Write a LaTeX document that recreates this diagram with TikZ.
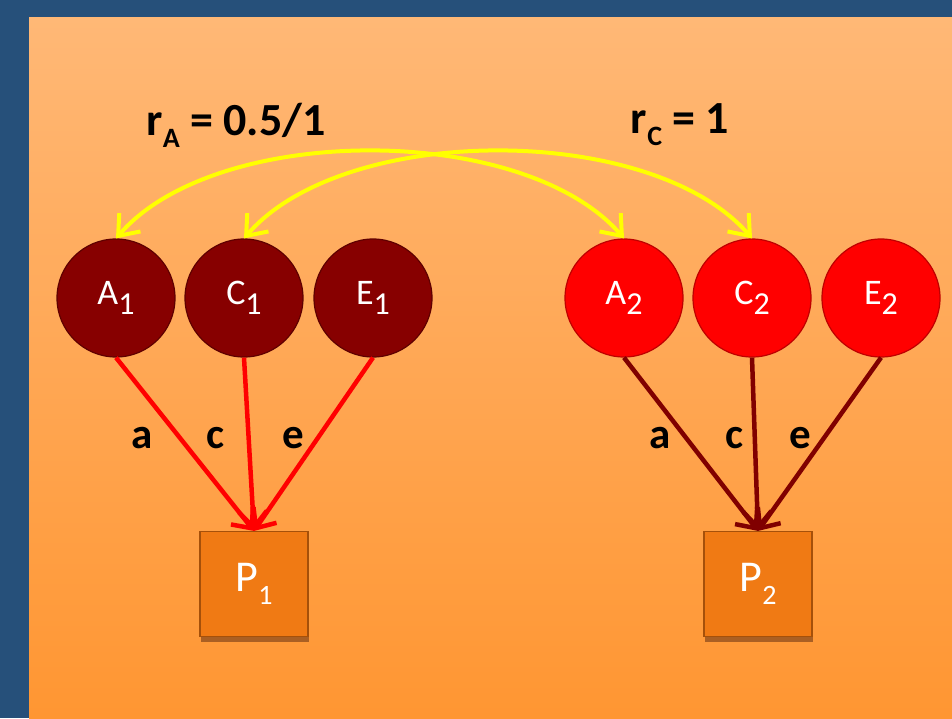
\documentclass[tikz,border=0pt]{standalone}
\usepackage{fontspec}
\setmainfont{Carlito}
\usetikzlibrary{arrows.meta}
\definecolor{bgblue}{RGB}{38,80,122}
\definecolor{otop}{RGB}{255,184,118}
\definecolor{obot}{RGB}{255,150,50}
\definecolor{dred}{RGB}{135,0,0}
\definecolor{dredb}{RGB}{95,0,0}
\definecolor{bred}{RGB}{255,0,0}
\definecolor{bredb}{RGB}{190,0,0}
\definecolor{arrdark}{RGB}{128,0,0}
\definecolor{boxor}{RGB}{240,122,20}
\definecolor{boxbd}{RGB}{165,80,10}
\definecolor{boxsh}{RGB}{170,95,35}
\definecolor{yel}{RGB}{255,255,0}
\newcommand\mysub[3]{\raisebox{-#3pt}{\fontsize{#2}{#2}\selectfont #1}}
\begin{document}
\begin{tikzpicture}[x=1pt,y=-1pt,
  latL/.style={circle,minimum size=118pt,inner sep=0pt,fill=dred,draw=dredb,line width=1.2pt,text=white,font=\fontsize{36}{40}\selectfont},
  latR/.style={circle,minimum size=118pt,inner sep=0pt,fill=bred,draw=bredb,line width=1.2pt,text=white,font=\fontsize{36}{40}\selectfont},
  obsbox/.style={rectangle,minimum width=108pt,minimum height=105pt,inner sep=0pt,fill=boxor,draw=boxbd,line width=1.2pt,text=white,font=\fontsize{44}{48}\selectfont},
  patharr/.style={line width=4.5pt,-{Straight Barb[length=16pt,width=28pt]}},
  corr/.style={yel,line width=4pt,{Straight Barb[length=18pt,width=28pt]}-{Straight Barb[length=18pt,width=28pt]}},
  plab/.style={font=\fontsize{43}{46}\selectfont\bfseries,text=black,inner sep=0pt},
  rlab/.style={font=\fontsize{46}{50}\selectfont\bfseries,text=black,inner sep=0pt}
]
\fill[bgblue] (0,0) rectangle (952,718);
\shade[top color=otop,bottom color=obot] (29,17) rectangle (952,718);
\useasboundingbox (0,0) rectangle (952,718);

% latent variables
\node[latL] (A1) at (116,298) {A\mysub{1}{32}{10}};
\node[latL] (C1) at (244,298) {C\mysub{1}{32}{10}};
\node[latL] (E1) at (373,298) {E\mysub{1}{32}{10}};
\node[latR] (A2) at (624,298) {A\mysub{2}{32}{10}};
\node[latR] (C2) at (752,298) {C\mysub{2}{32}{10}};
\node[latR] (E2) at (881,298) {E\mysub{2}{32}{10}};

% observed boxes (with shadow)
\fill[boxsh] (201,538) rectangle (309,642);
\node[obsbox] (P1) at (254,584) {P\mysub{1}{28}{13}};
\fill[boxsh] (705,538) rectangle (813,642);
\node[obsbox] (P2) at (758,584) {P\mysub{2}{28}{13}};

% path arrows
\draw[patharr,bred] (A1.south) -- (P1.north);
\draw[patharr,bred] (C1.south) -- (P1.north);
\draw[patharr,bred] (E1.south) -- (P1.north);
\draw[patharr,arrdark] (A2.south) -- (P2.north);
\draw[patharr,arrdark] (C2.south) -- (P2.north);
\draw[patharr,arrdark] (E2.south) -- (P2.north);

% path labels
\node[plab] (la1) at (142,438) {a};
\node[plab] (lc1) at (215,438) {c};
\node[plab] (le1) at (293,438) {e};
\node[plab] (la2) at (660,438) {a};
\node[plab] (lc2) at (734,438) {c};
\node[plab] (le2) at (800,438) {e};

% correlations
\draw[corr] (A1.north) .. controls +(100,-116) and +(-100,-116) .. (A2.north);
\draw[corr] (C1.north) .. controls +(100,-116) and +(-100,-116) .. (C2.north);

% correlation labels
\node[rlab] (rA) at (236,125) {r\mysub{A}{28}{12} = 0.5/1};
\node[rlab] (rC) at (680,125) {r\mysub{C}{28}{12} = 1};
\end{tikzpicture}
\end{document}
